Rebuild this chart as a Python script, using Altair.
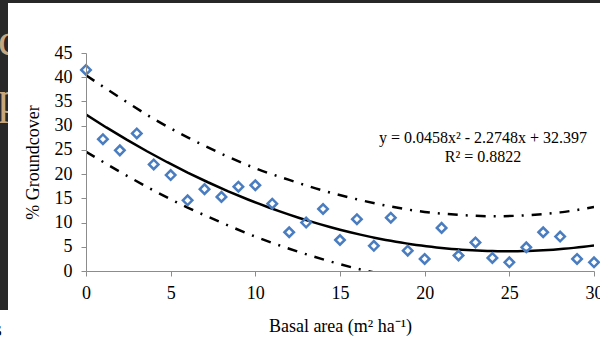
import altair as alt
import pandas as pd

# ---- data ----
basal_area = list(range(0, 31))
groundcover = [41.5, 27.2, 24.9, 28.4, 22.0, 19.8, 14.6, 16.9, 15.3, 17.4, 17.7,
               13.9, 8.0, 10.0, 12.8, 6.4, 10.7, 5.2, 11.0, 4.2, 2.5,
               8.9, 3.2, 5.9, 2.7, 1.8, 4.9, 8.0, 7.1, 2.5, 1.8]

upper_x = [0, 2, 4, 6, 8, 10, 12, 14, 16, 18, 20, 22, 24, 26, 28, 30]
upper_y = [40.4, 35.8, 31.4, 27.6, 24.2, 21.2, 18.8, 16.6, 14.8, 13.3, 12.2,
           11.6, 11.3, 11.5, 12.1, 13.2]

lower_x = [0, 2, 4, 6, 8, 10, 12, 14, 16, 18]
lower_y = [24.6, 20.5, 16.6, 13.1, 10.0, 7.1, 4.6, 2.4, 0.5, -1.0]

x_ticks = [0, 5, 10, 15, 20, 25, 30]
y_ticks = [0, 5, 10, 15, 20, 25, 30, 35, 40, 45]

equation_text = "y = 0.0458x² - 2.2748x + 32.397"
r2_text = "R² = 0.8822"
x_title = "Basal area (m² ha⁻¹)"
y_title = "% Groundcover"

FONT = "Liberation Serif"

pts = pd.DataFrame({"x": basal_area, "y": groundcover})
up = pd.DataFrame({"x": upper_x, "y": upper_y})
lo = pd.DataFrame({"x": lower_x, "y": lower_y})
one = pd.DataFrame({"k": [0]})

xs = alt.Scale(domain=[0, 30], nice=False)
ys = alt.Scale(domain=[0, 45], nice=False)

x_axis = alt.Axis(values=x_ticks, title=x_title, grid=False, zindex=1,
                  domainColor="#8c8c8c", tickColor="#8c8c8c", tickSize=5,
                  labelFont=FONT, labelFontSize=18, labelColor="black",
                  labelPadding=8, labelFlush=False,
                  titleFont=FONT, titleFontSize=18, titleFontWeight="normal",
                  titleColor="black", titlePadding=15)
y_axis = alt.Axis(values=y_ticks, title=y_title, grid=False, zindex=1,
                  domainColor="#8c8c8c", tickColor="#8c8c8c", tickSize=5,
                  labelFont=FONT, labelFontSize=18, labelColor="black",
                  labelPadding=9,
                  titleFont=FONT, titleFontSize=18, titleFontWeight="normal",
                  titleColor="black", titlePadding=12)

# ---- slide background fragments ----
letters = alt.Chart(one).mark_text(font=FONT, fontSize=46, color="#c7a77f",
                                   align="left", baseline="alphabetic").encode(
    x=alt.value(-88), y=alt.value(2), text=alt.value("c"))
letters2 = alt.Chart(one).mark_text(font=FONT, fontSize=46, color="#c7a77f",
                                    align="left", baseline="alphabetic").encode(
    x=alt.value(-88), y=alt.value(60), text=alt.value("p"))
white_main = alt.Chart(one).mark_rect(color="white").encode(
    x=alt.value(-78), x2=alt.value(514), y=alt.value(-50), y2=alt.value(284))
white_bottom = alt.Chart(one).mark_rect(color="white").encode(
    x=alt.value(-86), x2=alt.value(-78), y=alt.value(257), y2=alt.value(284))
s_frag = alt.Chart(one).mark_text(font=FONT, fontSize=20, color="black",
                                  align="left", baseline="alphabetic").encode(
    x=alt.value(-92), y=alt.value(283), text=alt.value("s"))

# ---- data layers ----
points = alt.Chart(pts).mark_point(shape="diamond", size=90, filled=False,
                                   color="#4a7dc0", strokeWidth=2.5, opacity=1).encode(
    x=alt.X("x:Q", scale=xs, axis=x_axis),
    y=alt.Y("y:Q", scale=ys, axis=y_axis))

fit = alt.Chart(pts).transform_regression(
    "x", "y", method="poly", order=2, extent=[0, 30]
).mark_line(color="black", strokeWidth=2.5, clip=True).encode(
    x=alt.X("x:Q", scale=xs, axis=x_axis),
    y=alt.Y("y:Q", scale=ys, axis=y_axis))

band_style = dict(color="black", strokeWidth=2.5, strokeDash=[10, 8, 2, 8],
                  strokeCap="butt", interpolate="monotone", clip=True)
upper = alt.Chart(up).mark_line(**band_style).encode(
    x=alt.X("x:Q", scale=xs, axis=x_axis),
    y=alt.Y("y:Q", scale=ys, axis=y_axis))
lower = alt.Chart(lo).mark_line(**band_style).encode(
    x=alt.X("x:Q", scale=xs, axis=x_axis),
    y=alt.Y("y:Q", scale=ys, axis=y_axis))

eq = alt.Chart(one).mark_text(font=FONT, fontSize=16, color="black",
                              align="center", baseline="middle").encode(
    x=alt.value(397), y=alt.value(85), text=alt.value(equation_text))
r2 = alt.Chart(one).mark_text(font=FONT, fontSize=16, color="black",
                              align="center", baseline="middle").encode(
    x=alt.value(397), y=alt.value(104), text=alt.value(r2_text))

chart = alt.layer(
    letters, letters2, white_main, white_bottom, s_frag,
    fit, upper, lower, points, eq, r2
).properties(
    width=508, height=218,
    autosize=alt.AutoSizeParams(type="none"),
    padding={"left": 86, "top": 53, "right": 6, "bottom": 66},
    background="#282828",
).configure_view(stroke=None)

chart.save("out.html", embed_options={"renderer": "svg", "actions": False})
